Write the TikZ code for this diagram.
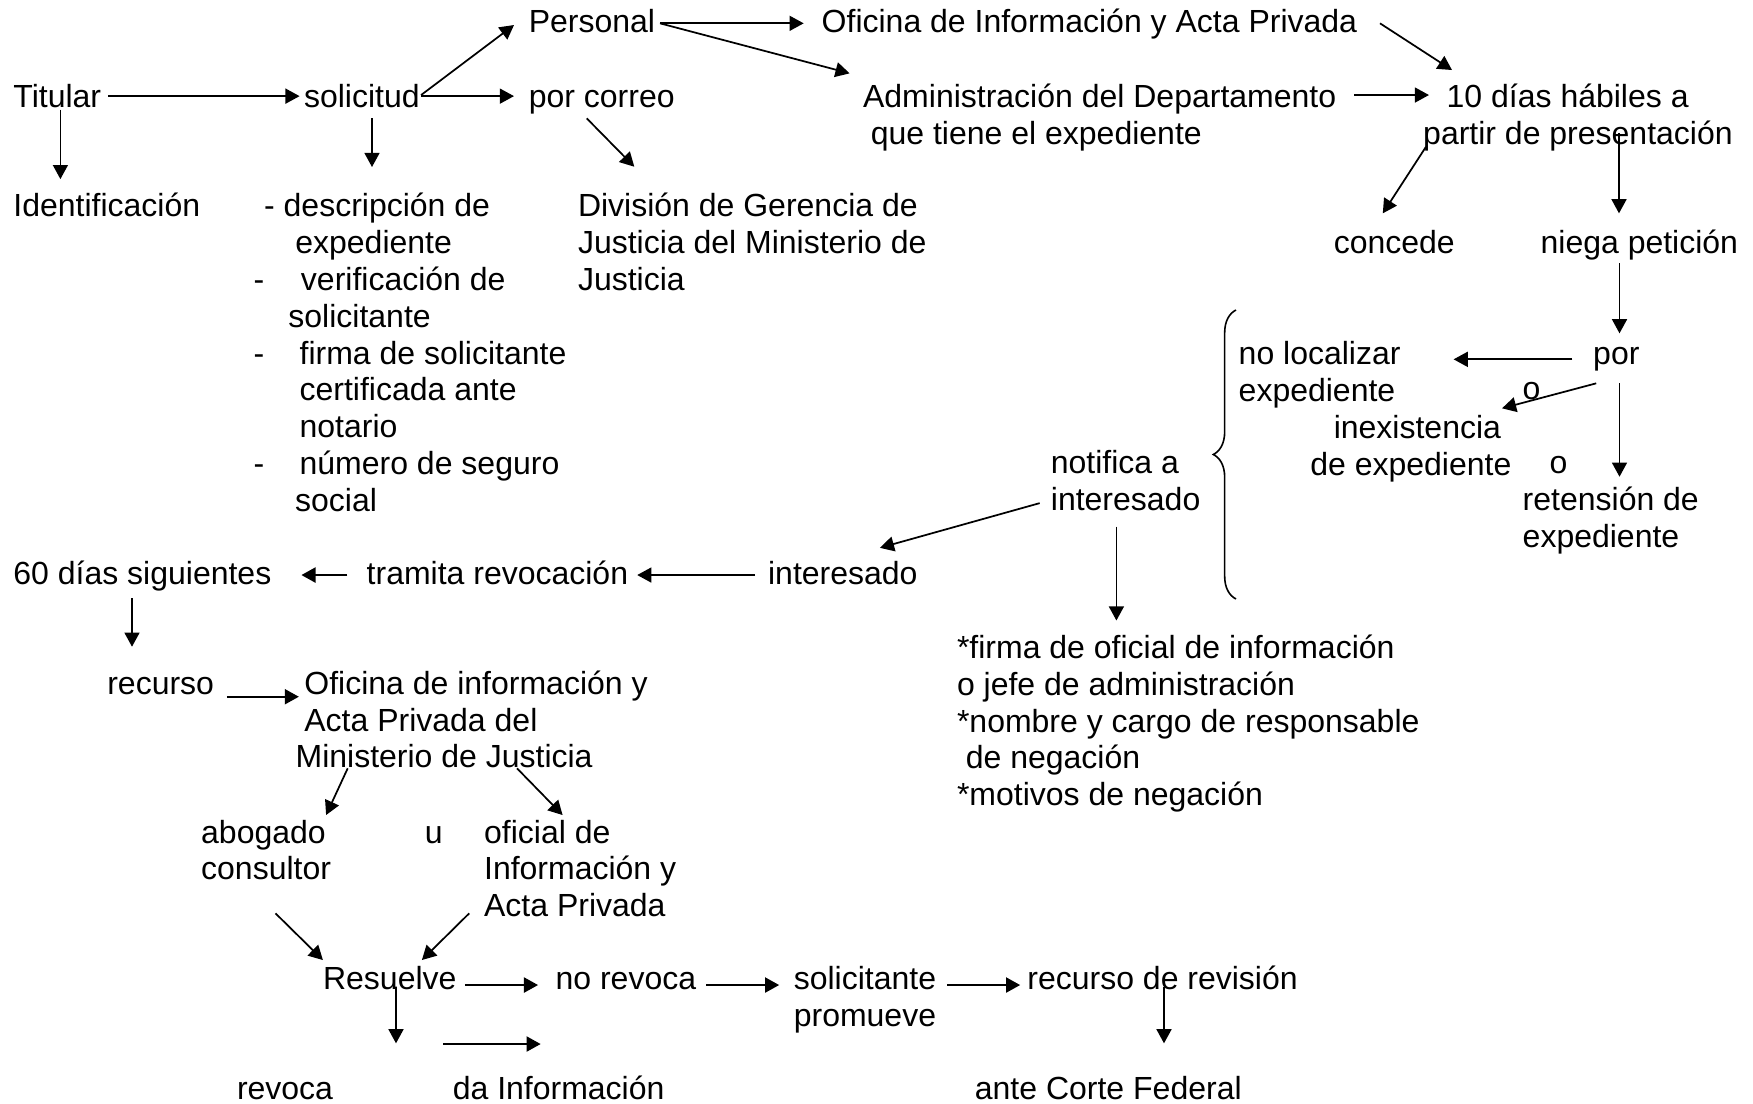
\documentclass[tikz,border=0pt]{standalone}
\usepackage{fontspec}
\setmainfont{Liberation Sans}
\usetikzlibrary{arrows.meta,calc,decorations.pathreplacing}
\begin{document}
\begin{tikzpicture}[x=0.375pt,y=-0.375pt,
  lbl/.style={anchor=north west, inner sep=0pt, outer sep=0pt, align=left,
    yshift=9.66pt, font=\fontsize{12}{13.8}\selectfont},
  arr/.style={-{Triangle[length=5.3pt,width=5.6pt]}, line width=0.65pt},
  thickarr/.style={arr, line width=0.9pt},
  plain/.style={line width=0.6pt}]
\useasboundingbox (0,0) rectangle (1753,1104);
% nodes (placed at left edge, first baseline)
\node[lbl] (personal) at (528.8,32.4) {\strut Personal};
\node[lbl] (oficina) at (821.7,32.4) {\strut Oficina de Información y Acta Privada};
\node[lbl] (titular) at (13.4,107.3) {\strut Titular};
\node[lbl] (solicitud) at (304.1,107.3) {\strut solicitud};
\node[lbl] (porcorreo) at (528.8,107.3) {\strut por correo};
\node[lbl] (admin) at (863.1,107.3) {\strut Administración del Departamento\\\hspace*{2.9pt}que tiene el expediente};
\node[lbl] (diez) at (1423.2,107.3) {\strut\hspace*{8.8pt}10 días hábiles a\\partir de presentación};
\node[lbl] (ident) at (13.4,216.9) {\strut Identificación};
\node[lbl] (desc) at (253.5,216.9) {\strut\hspace*{4pt}- descripción de\\\hspace*{15.7pt}expediente\\\makebox[17.8pt][l]{-}verificación de\\\hspace*{13.1pt}solicitante\\\makebox[17.3pt][l]{-}firma de solicitante\\\hspace*{17.3pt}certificada ante\\\hspace*{17.3pt}notario\\\makebox[17.3pt][l]{-}número de seguro\\\hspace*{15.6pt}social};
\node[lbl] (division) at (578,216.9) {\strut División de Gerencia de\\Justicia del Ministerio de\\Justicia};
\node[lbl] (concede) at (1333.8,253.8) {\strut concede};
\node[lbl] (niega) at (1540.6,253.8) {\strut niega petición};
\node[lbl] (nolocal) at (1238.7,364.5) {\strut no localizar\\expediente};
\node[lbl] (por) at (1593.2,364.5) {\strut por};
\node[lbl] (o1) at (1522.7,400) {\strut o};
\node[lbl] (inex) at (1310.3,438.3) {\strut\hspace*{8.8pt}inexistencia\\de expediente};
\node[lbl] (o2) at (1549.5,474) {\strut o};
\node[lbl] (reten) at (1522.7,510.9) {\strut retensión de\\expediente};
\node[lbl] (notifica) at (1050.9,474) {\strut notifica a\\interesado};
\node[lbl] (sesenta) at (13.4,584.7) {\strut 60 días siguientes};
\node[lbl] (tramita) at (366.7,584.7) {\strut tramita revocación};
\node[lbl] (interesado) at (768.1,584.7) {\strut interesado};
\node[lbl] (firma) at (957,658.5) {\strut *firma de oficial de información\\o jefe de administración\\*nombre y cargo de responsable\\\hspace*{3.3pt}de negación\\*motivos de negación};
\node[lbl] (recurso) at (107.3,694.3) {\strut recurso};
\node[lbl] (oficina2) at (295.6,694.3) {\strut\hspace*{3.3pt}Oficina de información y\\\hspace*{3.3pt}Acta Privada del\\Ministerio de Justicia};
\node[lbl] (abogado) at (201.2,843) {\strut abogado\\consultor};
\node[lbl] (u) at (424.8,843) {\strut u};
\node[lbl] (oficial) at (484.1,843) {\strut oficial de\\Información y\\Acta Privada};
\node[lbl] (resuelve) at (323.1,989.4) {\strut Resuelve};
\node[lbl] (norevoca) at (555.6,989.4) {\strut no revoca};
\node[lbl] (solicitante) at (793.8,989.4) {\strut solicitante\\promueve};
\node[lbl] (revision) at (1027.4,989.4) {\strut recurso de revisión};
\node[lbl] (revoca) at (237,1099) {\strut revoca};
\node[lbl] (dainfo) at (452.8,1099) {\strut da Información};
\node[lbl] (corte) at (974.9,1099) {\strut ante Corte Federal};
% brace
\draw[plain, decorate, decoration={brace, amplitude=8.5pt}] (1236,599) -- (1236,310);
% connectors
\draw[arr] ($(titular.north west)+(95,14.6)$) -- ($(solicitud.north west)+(-4.5,14.6)$);
\draw[arr] ($(titular.north west)+(47,28)$) -- ($(ident.north west)+(47,-12)$);
\draw[arr] ($(solicitud.north west)+(117,13.5)$) -- ($(personal.north west)+(-14.8,18.4)$);
\draw[arr] ($(solicitud.north west)+(117,14.6)$) -- ($(porcorreo.north west)+(-14.8,14.6)$);
\draw[arr] ($(solicitud.north west)+(67.9,36.5)$) -- ($(desc.north west)+(118.5,-24.1)$);
\draw[arr] ($(personal.north west)+(131.2,16.7)$) -- ($(oficina.north west)+(-18,16.7)$);
\draw[arr] ($(personal.north west)+(131.2,16.7)$) -- ($(admin.north west)+(-13.5,-8.2)$);
\draw[arr] ($(porcorreo.north west)+(57.9,36.8)$) -- ($(division.north west)+(56.3,-24.4)$);
\draw[arr] ($(oficina.north west)+(558.3,16.7)$) -- ($(diez.north west)+(28.8,-11.5)$);
\draw[arr] ($(admin.north west)+(490.9,13.5)$) -- ($(diez.north west)+(5.8,13.5)$);
\draw[arr] ($(diez.north west)+(2.8,65.2)$) -- ($(concede.north west)+(49,-14.7)$);
\draw[arr] ($(diez.north west)+(195.8,51.5)$) -- ($(niega.north west)+(78.4,-14.7)$);
\draw[arr] ($(niega.north west)+(78.9,35)$) -- ($(por.north west)+(26.3,-5.4)$);
\draw[arr] ($(por.north west)+(-20.8,20.6)$) -- ($(nolocal.north west)+(214.9,20.6)$);
\draw[arr] ($(por.north west)+(3,44.6)$) -- ($(inex.north west)+(191.7,-4.2)$);
\draw[arr] ($(por.north west)+(26.3,44.6)$) -- ($(reten.north west)+(96.8,-8.4)$);
\draw[arr] ($(notifica.north west)+(-11.2,54.9)$) -- ($(interesado.north west)+(111.8,-11.1)$);
\draw[arr] ($(notifica.north west)+(65.5,78.5)$) -- ($(firma.north west)+(159.4,-12.2)$);
\draw[arr] ($(interesado.north west)+(-13.1,16.1)$) -- ($(tramita.north west)+(270.5,16.1)$);
\draw[thickarr] ($(tramita.north west)+(-19.4,16.1)$) -- ($(sesenta.north west)+(288,16.1)$);
\draw[arr] ($(sesenta.north west)+(118.6,39.4)$) -- ($(recurso.north west)+(24.7,-21.8)$);
\draw[thickarr] ($(recurso.north west)+(119.5,28.2)$) -- ($(oficina2.north west)+(3.3,28.2)$);
\draw[arr] ($(oficina2.north west)+(52.1,99.8)$) -- ($(abogado.north west)+(124.9,-2.2)$);
\draw[arr] ($(oficina2.north west)+(221.4,99.8)$) -- ($(oficial.north west)+(78.5,-2.2)$);
\draw[arr] ($(abogado.north west)+(74.3,96.1)$) -- ($(resuelve.north west)+(-0.2,-3.6)$);
\draw[arr] ($(oficial.north west)+(-14.9,96.1)$) -- ($(resuelve.north west)+(98.8,-3.6)$);
\draw[thickarr] ($(resuelve.north west)+(141.8,21.4)$) -- ($(norevoca.north west)+(-17.5,21.4)$);
\draw[thickarr] ($(norevoca.north west)+(150.4,21.4)$) -- ($(solicitante.north west)+(-14.6,21.4)$);
\draw[thickarr] ($(solicitante.north west)+(153.2,21.4)$) -- ($(revision.north west)+(-7.2,21.4)$);
\draw[arr] ($(resuelve.north west)+(72.9,23.1)$) -- ($(revoca.north west)+(159,-29.9)$);
\draw[thickarr] ($(revoca.north west)+(206.4,-29.2)$) -- ($(dainfo.north west)+(87.9,-29.2)$);
\draw[arr] ($(revision.north west)+(136.6,23.1)$) -- ($(corte.north west)+(189.1,-29.9)$);
\end{tikzpicture}
\end{document}
